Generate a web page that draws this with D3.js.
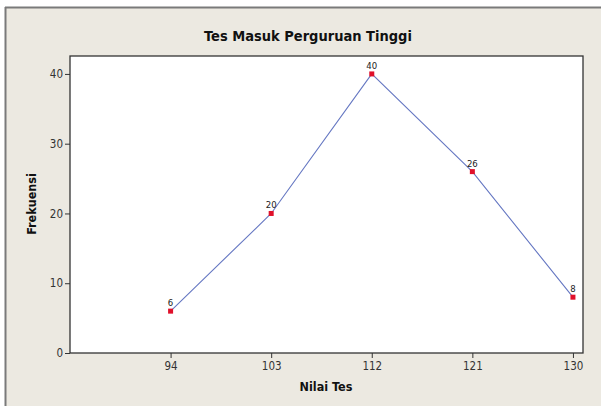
<!DOCTYPE html>
<html>
<head>
<meta charset="utf-8">
<script src="https://cdn.jsdelivr.net/npm/d3@7"></script>
<style>
  body { margin: 0; background: #fff; }
  text { font-family: Tahoma, "DejaVu Sans Condensed", "DejaVu Sans", sans-serif; }
</style>
</head>
<body>
<div id="chart"></div>
<script>
// data
var nilaiTes = [94, 103, 112, 121, 130];
var frekuensi = [6, 20, 40, 26, 8];
var yTicks = [0, 10, 20, 30, 40];

var width = 601, height = 406;
var plot = { left: 70, top: 56, right: 583, bottom: 353 };

var svg = d3.select('#chart').append('svg')
            .attr('width', width)
            .attr('height', height);

// outer window frame
svg.append('rect').attr('x', 0).attr('y', 0).attr('width', width).attr('height', height).attr('fill', '#fff');
svg.append('rect')
    .attr('x', 5).attr('y', 7)
    .attr('width', width - 5).attr('height', height - 7)
    .attr('fill', '#ECE9E1');
svg.append('line').attr('x1', 5.5).attr('x2', 5.5).attr('y1', 7).attr('y2', height)
    .attr('stroke', '#7a7a7a').attr('stroke-width', 2);
svg.append('line').attr('x1', 5).attr('x2', width).attr('y1', 7.5).attr('y2', 7.5)
    .attr('stroke', '#7a7a7a').attr('stroke-width', 2);

var x = d3.scaleLinear().domain([85, 130.9]).range([plot.left, plot.right]);
var y = d3.scaleLinear().domain([0, 42.57]).range([plot.bottom, plot.top]);

// plot area
svg.append('rect')
    .attr('x', plot.left).attr('y', plot.top)
    .attr('width', plot.right - plot.left).attr('height', plot.bottom - plot.top)
    .attr('fill', '#fff').attr('stroke', '#333').attr('stroke-width', 1.3);

var xAxis = svg.append('g')
    .attr('transform', 'translate(0,' + plot.bottom + ')')
    .call(d3.axisBottom(x).tickValues(nilaiTes).tickSize(5).tickPadding(4));
var yAxis = svg.append('g')
    .attr('transform', 'translate(' + plot.left + ',0)')
    .call(d3.axisLeft(y).tickValues(yTicks).tickSize(5).tickPadding(2));

[xAxis, yAxis].forEach(function(g) {
    g.select('.domain').remove();
    g.selectAll('line').attr('stroke', '#333');
    g.selectAll('text').attr('fill', '#333').style('font-size', '11.5px')
      .style('font-family', 'Tahoma, "DejaVu Sans Condensed", sans-serif');
});

var line = d3.line()
    .x(function(d, i) { return x(nilaiTes[i]); })
    .y(function(d) { return y(d); });

svg.append('path')
    .datum(frekuensi)
    .attr('d', line)
    .attr('fill', 'none')
    .attr('stroke', '#6577c2')
    .attr('stroke-width', 1.1);

svg.selectAll('.pt')
    .data(frekuensi)
    .enter().append('rect')
    .attr('class', 'pt')
    .attr('x', function(d, i) { return x(nilaiTes[i]) - 2.5; })
    .attr('y', function(d) { return y(d) - 2.5; })
    .attr('width', 5).attr('height', 5)
    .attr('fill', '#e0102a');

svg.selectAll('.lbl')
    .data(frekuensi)
    .enter().append('text')
    .attr('class', 'lbl')
    .attr('x', function(d, i) { return x(nilaiTes[i]); })
    .attr('y', function(d) { return y(d) - 5; })
    .attr('text-anchor', 'middle')
    .style('font-size', '9.5px')
    .attr('fill', '#222')
    .text(function(d) { return d; });

svg.append('text')
    .attr('x', 308).attr('y', 41)
    .attr('text-anchor', 'middle')
    .style('font-size', '14.5px').style('font-weight', 'bold')
    .attr('fill', '#111')
    .text('Tes Masuk Perguruan Tinggi');

svg.append('text')
    .attr('x', 326).attr('y', 391)
    .attr('text-anchor', 'middle')
    .style('font-size', '12.5px').style('font-weight', 'bold')
    .attr('fill', '#111')
    .text('Nilai Tes');

svg.append('text')
    .attr('transform', 'translate(36,' + 204 + ') rotate(-90)')
    .attr('text-anchor', 'middle')
    .style('font-size', '12.5px').style('font-weight', 'bold')
    .attr('fill', '#111')
    .text('Frekuensi');
</script>
</body>
</html>
